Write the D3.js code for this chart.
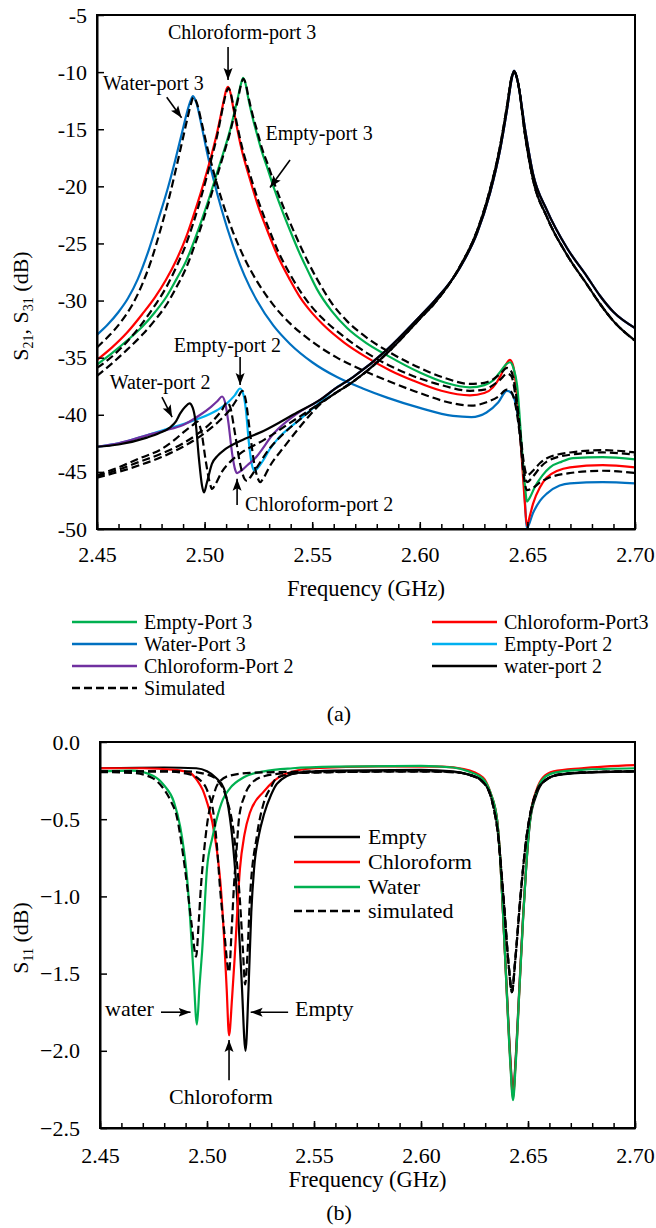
<!DOCTYPE html>
<html><head><meta charset="utf-8">
<script src="https://cdn.jsdelivr.net/npm/d3@7"></script>
<style>
body{margin:0;background:#fff}
text{font-family:"Liberation Serif","Times New Roman",Tinos,serif;fill:#000}
</style>
</head><body>
<svg id="c" width="656" height="1228"></svg>
<script>
// ---------- (a) S21 / S31 ----------
const xTicksA = [2.45,2.50,2.55,2.60,2.65,2.70];
const yTicksA = [-50,-45,-40,-35,-30,-25,-20,-15,-10,-5];

const empty3 = [[2.450,-35.6],[2.457,-34.6],[2.464,-33.5],[2.471,-32.3],[2.477,-31.0],[2.4825,-29.6],[2.487,-28.1],[2.4915,-26.5],[2.4955,-24.6],[2.4993,-22.6],[2.5025,-20.8],[2.5058,-18.8],[2.5090,-16.9],[2.5118,-15.1],[2.5140,-13.4],[2.5155,-12.2],[2.5168,-11.1],[2.5179,-10.5],[2.5190,-11.0],[2.5202,-12.2],[2.5222,-13.9],[2.5243,-15.4],[2.5265,-16.9],[2.5290,-18.3],[2.5325,-20.3],[2.5364,-22.3],[2.5400,-24.0],[2.5440,-25.8],[2.548,-27.4],[2.5522,-29.0],[2.559,-30.9],[2.5662,-32.4],[2.5750,-33.7],[2.5848,-34.8],[2.600,-36.3],[2.612,-37.2],[2.6233,-37.6],[2.630,-37.4],[2.634,-37.0],[2.6375,-36.2],[2.6400,-35.6],[2.6419,-35.4],[2.6435,-35.9],[2.6452,-37.4],[2.6475,-43.1],[2.6490,-46.5],[2.6498,-47.6],[2.6510,-47.3],[2.6535,-46.3],[2.6570,-45.3],[2.6605,-44.6],[2.6660,-44.1],[2.6712,-43.8],[2.685,-43.7],[2.700,-43.9]];
const chloro3 = [[2.450,-35.2],[2.457,-34.1],[2.464,-32.8],[2.471,-31.2],[2.477,-29.7],[2.482,-28.2],[2.487,-26.4],[2.4915,-24.4],[2.4946,-22.7],[2.498,-20.7],[2.5011,-18.7],[2.5037,-16.9],[2.5058,-15.3],[2.5075,-13.8],[2.5090,-12.4],[2.5100,-11.6],[2.5109,-11.3],[2.5120,-11.8],[2.5132,-13.0],[2.5150,-14.8],[2.5170,-16.6],[2.5211,-19.4],[2.5250,-21.8],[2.5290,-23.8],[2.5340,-26.1],[2.5397,-28.2],[2.5443,-29.7],[2.5500,-31.1],[2.5550,-32.1],[2.5650,-33.7],[2.5755,-35.0],[2.5860,-36.1],[2.5968,-37.0],[2.610,-37.9],[2.6233,-38.3],[2.630,-38.1],[2.634,-37.6],[2.6375,-36.6],[2.6400,-35.6],[2.6419,-35.2],[2.6435,-35.8],[2.6450,-38.0],[2.6466,-41.6],[2.6485,-46.9],[2.6498,-49.7],[2.6512,-48.8],[2.6526,-47.8],[2.6560,-46.3],[2.659,-45.5],[2.6640,-44.9],[2.6698,-44.6],[2.685,-44.4],[2.700,-44.6]];
const water3 = [[2.450,-33.0],[2.455,-32.1],[2.460,-31.0],[2.4644,-29.8],[2.469,-28.1],[2.474,-25.6],[2.4785,-22.9],[2.483,-20.1],[2.4865,-17.6],[2.4895,-15.3],[2.4920,-13.4],[2.4935,-12.5],[2.4946,-12.1],[2.4962,-12.7],[2.4985,-14.6],[2.5010,-16.9],[2.5039,-19.2],[2.5080,-22.1],[2.5132,-25.2],[2.5185,-27.8],[2.5243,-30.0],[2.532,-32.2],[2.5397,-33.8],[2.550,-35.4],[2.5615,-36.7],[2.5735,-37.7],[2.5848,-38.5],[2.600,-39.4],[2.6154,-40.1],[2.624,-40.2],[2.631,-39.8],[2.6365,-38.9],[2.6405,-37.9],[2.6425,-38.1],[2.6445,-39.0],[2.6466,-41.6],[2.6484,-46.0],[2.6498,-49.9],[2.6526,-48.6],[2.6560,-47.5],[2.659,-46.9],[2.6650,-46.2],[2.6698,-46.0],[2.685,-45.9],[2.700,-46.0]];

const empty2Head = [[2.450,-42.8],[2.460,-42.5],[2.4746,-41.7],[2.4850,-41.1],[2.4965,-40.4],[2.5058,-39.6],[2.5104,-39.0],[2.5140,-38.3],[2.5165,-37.7],[2.5180,-38.2],[2.5192,-39.6],[2.5205,-42.3],[2.522,-44.4],[2.5232,-44.9],[2.5250,-44.6],[2.5272,-44.0],[2.530,-43.1],[2.5336,-42.2],[2.5443,-40.4],[2.5536,-38.9]];
const chloro2Head = [[2.450,-42.8],[2.460,-42.5],[2.4732,-41.8],[2.4811,-41.4],[2.490,-40.9],[2.498,-40.0],[2.503,-39.3],[2.5060,-38.8],[2.5081,-38.4],[2.5095,-38.9],[2.5110,-40.6],[2.5128,-43.4],[2.5142,-44.8],[2.5151,-45.1],[2.5170,-44.9],[2.5200,-44.4],[2.523,-43.9],[2.5323,-41.6],[2.543,-39.9],[2.5536,-38.7]];
const water2Head = [[2.450,-42.8],[2.460,-42.6],[2.4732,-42.0],[2.479,-41.6],[2.484,-41.1],[2.4866,-40.6],[2.4886,-39.9],[2.4910,-39.3],[2.4930,-39.0],[2.4945,-39.4],[2.4958,-40.6],[2.4974,-43.9],[2.4988,-46.2],[2.4997,-46.8],[2.5010,-46.0],[2.5034,-44.3],[2.5060,-43.6],[2.509,-43.1],[2.5165,-42.3],[2.5276,-41.4],[2.543,-39.8],[2.5536,-38.7]];
const port2Tail = [[2.560,-37.8],[2.569,-36.7],[2.5848,-34.3],[2.600,-31.4],[2.607,-30.0],[2.6187,-27.1],[2.6266,-24.1],[2.6326,-20.6],[2.6373,-16.8],[2.6405,-13.3],[2.6429,-10.4],[2.6438,-9.9],[2.6448,-10.3],[2.6457,-11.0],[2.6489,-15.0],[2.6526,-18.9],[2.6591,-22.1],[2.6684,-25.4],[2.6777,-27.9],[2.6838,-29.6],[2.690,-31.0],[2.700,-32.4]];

const simEmpty3 = [[2.450,-36.6],[2.457,-35.5],[2.464,-34.3],[2.471,-33.0],[2.477,-31.7],[2.4825,-30.3],[2.487,-28.8],[2.4915,-27.1],[2.4955,-25.1],[2.4993,-23.0],[2.5025,-21.1],[2.5058,-19.1],[2.5090,-17.1],[2.5118,-15.3],[2.5140,-13.6],[2.5155,-12.4],[2.5168,-11.2],[2.5180,-10.6],[2.5191,-11.0],[2.5203,-12.1],[2.5224,-13.8],[2.5245,-15.2],[2.5267,-16.7],[2.5292,-18.0],[2.5327,-19.9],[2.5366,-21.8],[2.5402,-23.4],[2.5442,-25.1],[2.548,-26.6],[2.5522,-28.1],[2.559,-30.2],[2.5662,-31.8],[2.5750,-33.2],[2.5848,-34.4],[2.600,-35.9],[2.612,-36.8],[2.6233,-37.3],[2.630,-37.2],[2.634,-36.9],[2.6375,-36.4],[2.6405,-35.9],[2.6425,-36.2],[2.6445,-37.9],[2.6466,-41.3],[2.6485,-44.4],[2.6498,-45.3],[2.6526,-44.9],[2.656,-44.2],[2.659,-43.8],[2.6698,-43.3],[2.685,-43.1],[2.700,-43.3]];
const simChloro3 = [[2.450,-35.9],[2.457,-34.9],[2.464,-33.6],[2.471,-32.0],[2.477,-30.4],[2.482,-28.9],[2.487,-27.0],[2.4915,-25.0],[2.4946,-23.3],[2.498,-21.2],[2.5011,-19.1],[2.5037,-17.2],[2.5058,-15.6],[2.5075,-14.0],[2.5090,-12.6],[2.5102,-11.7],[2.5112,-11.4],[2.5122,-11.9],[2.5134,-13.0],[2.5152,-14.7],[2.5172,-16.4],[2.5213,-19.1],[2.5252,-21.4],[2.5292,-23.4],[2.5342,-25.7],[2.5400,-27.8],[2.5445,-29.2],[2.5500,-30.6],[2.5550,-31.6],[2.5650,-33.2],[2.5755,-34.6],[2.5860,-35.7],[2.5968,-36.6],[2.610,-37.4],[2.6233,-37.9],[2.630,-37.8],[2.634,-37.4],[2.6375,-36.9],[2.6405,-36.4],[2.6425,-36.6],[2.6445,-38.4],[2.6466,-41.8],[2.6485,-45.0],[2.6498,-45.9],[2.6526,-45.4],[2.656,-44.6],[2.659,-44.1],[2.6698,-43.5],[2.685,-43.3],[2.700,-43.5]];
const simWater3 = [[2.450,-34.1],[2.456,-33.0],[2.461,-31.9],[2.466,-30.5],[2.4705,-28.8],[2.475,-26.6],[2.4795,-23.8],[2.4835,-21.0],[2.4868,-18.4],[2.4898,-15.9],[2.4922,-13.9],[2.4938,-12.7],[2.4948,-12.2],[2.4962,-12.6],[2.4985,-14.3],[2.5010,-16.4],[2.5040,-18.6],[2.5080,-21.2],[2.5132,-24.0],[2.5185,-26.3],[2.5243,-28.3],[2.532,-30.4],[2.5397,-32.0],[2.550,-33.6],[2.5615,-35.0],[2.5735,-36.1],[2.5848,-37.0],[2.600,-38.1],[2.6154,-39.0],[2.624,-39.2],[2.631,-38.9],[2.6365,-38.4],[2.6405,-37.8],[2.6425,-38.0],[2.6445,-39.2],[2.6466,-42.0],[2.6484,-45.5],[2.6498,-46.6],[2.6526,-46.4],[2.656,-45.9],[2.659,-45.6],[2.6698,-45.1],[2.685,-44.9],[2.700,-45.1]];
const simEmpty2Head = [[2.450,-45.5],[2.460,-45.0],[2.470,-44.4],[2.480,-43.7],[2.490,-42.8],[2.500,-41.6],[2.507,-40.5],[2.512,-39.5],[2.5155,-38.5],[2.5175,-37.9],[2.5190,-38.6],[2.5210,-41.4],[2.5230,-44.2],[2.5248,-45.6],[2.5258,-45.9],[2.5275,-45.5],[2.530,-44.6],[2.537,-42.8],[2.545,-40.9],[2.5536,-39.1]];
const simChloro2Head = [[2.450,-45.4],[2.460,-44.8],[2.470,-44.1],[2.480,-43.4],[2.490,-42.5],[2.498,-41.5],[2.504,-40.5],[2.508,-39.6],[2.5105,-38.9],[2.5120,-39.4],[2.5140,-41.5],[2.5165,-44.3],[2.5185,-45.6],[2.5197,-45.8],[2.5215,-45.4],[2.5250,-44.4],[2.530,-43.0],[2.537,-41.6],[2.545,-40.3],[2.5536,-39.0]];
const simWater2Head = [[2.450,-45.3],[2.460,-44.6],[2.470,-43.8],[2.480,-43.0],[2.486,-42.2],[2.491,-41.4],[2.4945,-40.9],[2.4965,-40.6],[2.4985,-41.5],[2.5005,-44.0],[2.5022,-45.8],[2.5035,-46.5],[2.5050,-46.1],[2.5080,-45.0],[2.512,-44.1],[2.5165,-43.4],[2.5276,-42.2],[2.543,-40.3],[2.5536,-39.0]];
const simPort2Tail = [[2.560,-38.2],[2.569,-37.1],[2.5848,-34.6],[2.600,-31.6],[2.607,-30.2],[2.6187,-27.0],[2.6266,-23.9],[2.6326,-20.3],[2.6373,-16.5],[2.6405,-13.0],[2.6429,-10.3],[2.6440,-10.0],[2.6450,-10.4],[2.6460,-11.3],[2.6489,-15.5],[2.6526,-19.4],[2.6591,-22.7],[2.6684,-26.0],[2.6777,-28.6],[2.6838,-30.3],[2.690,-31.8],[2.700,-33.5]];

const seriesNamesA = ["Empty-Port 3","Chloroform-Port3","Water-Port 3","Empty-Port 2","Chloroform-Port 2","water-port 2","Simulated"];
const seriesColorsA = ["#00b050","#ff0000","#0070c0","#00b0f0","#7030a0","#000000","#000000"];

// ---------- (b) S11 ----------
const xTicksB = [2.45,2.50,2.55,2.60,2.65,2.70];
const yTicksB = [-2.5,-2.0,-1.5,-1.0,-0.5,0.0];

const emptyS11 = [[2.450,-0.17],[2.480,-0.165],[2.495,-0.17],[2.500,-0.19],[2.504,-0.23],[2.5079,-0.30],[2.5107,-0.49],[2.5127,-0.75],[2.5145,-1.10],[2.5162,-1.55],[2.5180,-2.00],[2.5194,-1.60],[2.5207,-1.10],[2.522,-0.82],[2.5243,-0.60],[2.5266,-0.47],[2.5300,-0.34],[2.5327,-0.27],[2.542,-0.20],[2.560,-0.185],[2.600,-0.18],[2.615,-0.19],[2.622,-0.21],[2.629,-0.25],[2.6325,-0.34],[2.6355,-0.50],[2.6370,-0.75],[2.6383,-1.10],[2.6400,-1.58],[2.6418,-2.06],[2.6430,-2.28],[2.6442,-2.06],[2.6460,-1.58],[2.6477,-1.13],[2.6492,-0.80],[2.651,-0.51],[2.654,-0.34],[2.657,-0.26],[2.662,-0.22],[2.675,-0.20],[2.700,-0.19]];
const chloroS11 = [[2.450,-0.17],[2.470,-0.17],[2.485,-0.18],[2.492,-0.20],[2.4955,-0.25],[2.4980,-0.31],[2.500,-0.39],[2.5025,-0.52],[2.5047,-0.71],[2.5065,-0.95],[2.5079,-1.25],[2.5092,-1.60],[2.5103,-1.90],[2.5117,-1.66],[2.513,-1.38],[2.5154,-0.82],[2.5175,-0.60],[2.520,-0.46],[2.5266,-0.32],[2.536,-0.21],[2.550,-0.17],[2.580,-0.158],[2.610,-0.16],[2.620,-0.175],[2.629,-0.23],[2.6325,-0.33],[2.6355,-0.50],[2.6370,-0.75],[2.6383,-1.10],[2.6400,-1.60],[2.6418,-2.08],[2.6430,-2.30],[2.6442,-2.08],[2.6460,-1.60],[2.6477,-1.14],[2.6492,-0.79],[2.651,-0.49],[2.654,-0.31],[2.657,-0.23],[2.662,-0.19],[2.675,-0.17],[2.700,-0.15]];
const waterS11 = [[2.450,-0.19],[2.465,-0.185],[2.475,-0.22],[2.4799,-0.28],[2.4846,-0.39],[2.4875,-0.55],[2.4893,-0.71],[2.4910,-0.93],[2.4921,-1.14],[2.4937,-1.50],[2.4953,-1.83],[2.4965,-1.58],[2.4977,-1.36],[2.500,-0.82],[2.5025,-0.62],[2.5047,-0.49],[2.5075,-0.37],[2.5107,-0.30],[2.517,-0.23],[2.5266,-0.19],[2.540,-0.17],[2.560,-0.16],[2.600,-0.155],[2.615,-0.165],[2.622,-0.19],[2.629,-0.24],[2.6325,-0.33],[2.6355,-0.50],[2.6370,-0.75],[2.6383,-1.10],[2.6400,-1.60],[2.6418,-2.10],[2.6430,-2.32],[2.6442,-2.10],[2.6460,-1.60],[2.6477,-1.15],[2.6492,-0.80],[2.651,-0.50],[2.654,-0.32],[2.657,-0.24],[2.662,-0.20],[2.675,-0.18],[2.700,-0.17]];
const simEmptyS11Head = [[2.450,-0.19],[2.490,-0.19],[2.500,-0.21],[2.505,-0.25],[2.509,-0.36],[2.5126,-0.60],[2.5154,-1.03],[2.5168,-1.35],[2.5178,-1.57],[2.519,-1.35],[2.520,-1.03],[2.5234,-0.60],[2.5266,-0.39],[2.5300,-0.29],[2.5327,-0.23],[2.545,-0.20],[2.600,-0.19]];
const simChloroS11Head = [[2.450,-0.19],[2.480,-0.19],[2.492,-0.21],[2.497,-0.25],[2.500,-0.31],[2.5033,-0.49],[2.5048,-0.70],[2.506,-0.93],[2.508,-1.22],[2.5103,-1.49],[2.5115,-1.22],[2.5126,-0.93],[2.5138,-0.70],[2.515,-0.49],[2.5175,-0.35],[2.520,-0.28],[2.527,-0.22],[2.540,-0.20],[2.600,-0.19]];
const simWaterS11Head = [[2.450,-0.195],[2.465,-0.20],[2.474,-0.23],[2.479,-0.29],[2.483,-0.38],[2.486,-0.49],[2.4885,-0.70],[2.4907,-0.93],[2.4928,-1.18],[2.4949,-1.39],[2.4962,-1.15],[2.4972,-0.93],[2.4986,-0.71],[2.5005,-0.49],[2.503,-0.35],[2.5047,-0.28],[2.510,-0.22],[2.520,-0.20],[2.560,-0.19],[2.600,-0.19]];
const simS11Dip2 = [[2.615,-0.195],[2.622,-0.21],[2.629,-0.26],[2.6335,-0.40],[2.6360,-0.60],[2.6385,-1.00],[2.6410,-1.45],[2.6425,-1.62],[2.6440,-1.42],[2.6465,-1.00],[2.6490,-0.65],[2.651,-0.47],[2.654,-0.32],[2.658,-0.25],[2.665,-0.21],[2.680,-0.195],[2.700,-0.19]];

const seriesNamesB = ["Empty","Chloroform","Water","simulated"];
const seriesColorsB = ["#000000","#ff0000","#00b050","#000000"];

// ---------- drawing ----------
const FONT = '"Liberation Serif","Times New Roman",Tinos,serif';
const svg = d3.select("#c");
svg.append("rect").attr("width",656).attr("height",1228).attr("fill","#fff");
const defs = svg.append("defs");
defs.append("marker").attr("id","arr").attr("viewBox","0 -5 12 10")
  .attr("refX",12).attr("refY",0).attr("markerWidth",12).attr("markerHeight",10)
  .attr("markerUnits","userSpaceOnUse").attr("orient","auto")
  .append("path").attr("d","M0,-4.5L12,0L0,4.5L2.5,0Z").attr("fill","#000");

const DASH = "8,4";

function panel(o){
  const g = svg.append("g");
  const x = d3.scaleLinear().domain(o.xDomain).range([o.left,o.right]);
  const y = d3.scaleLinear().domain(o.yDomain).range([o.bottom,o.top]);
  const cid = "clip"+o.id;
  defs.append("clipPath").attr("id",cid).append("rect")
    .attr("x",o.left).attr("y",o.top).attr("width",o.right-o.left).attr("height",o.bottom-o.top);
  const line = d3.line().x(d=>x(d[0])).y(d=>y(d[1])).curve(d3.curveMonotoneX);
  const lg = g.append("g").attr("clip-path",`url(#${cid})`);
  o.series.forEach(s=>{
    lg.append("path").attr("d",line(s.data)).attr("fill","none")
      .attr("stroke",s.color).attr("stroke-width",2.2)
      .attr("stroke-dasharray",s.dash?DASH:null);
  });
  g.append("rect").attr("x",o.left).attr("y",o.top).attr("width",o.right-o.left)
    .attr("height",o.bottom-o.top).attr("fill","none").attr("stroke","#000").attr("stroke-width",2);
  const minor = d3.range(Math.round(o.xDomain[0]*100), Math.round(o.xDomain[1]*100)+1).map(v=>v/100);
  g.append("g").attr("transform",`translate(0,${o.bottom})`)
    .call(d3.axisBottom(x).tickValues(minor).tickSize(-5).tickFormat(""))
    .call(a=>{a.select(".domain").remove();a.selectAll("line").attr("stroke-width",1.5);});
  g.append("g").attr("transform",`translate(0,${o.bottom})`)
    .call(d3.axisBottom(x).tickValues(o.xTicks).tickSizeInner(-7).tickSizeOuter(0).tickPadding(o.xPad).tickFormat(d3.format(".2f")))
    .call(a=>{a.attr("font-family",FONT);a.select(".domain").attr("stroke-width",2);a.selectAll("line").attr("stroke-width",1.5);
      a.selectAll("text").style("font-family",FONT).attr("font-size",o.tickFont).attr("fill","#000");});
  g.append("g").attr("transform",`translate(${o.left},0)`)
    .call(d3.axisLeft(y).tickValues(o.yTicks).tickSizeInner(-7).tickSizeOuter(0).tickPadding(o.yPad).tickFormat(o.yFmt))
    .call(a=>{a.attr("font-family",FONT);a.select(".domain").attr("stroke-width",2);a.selectAll("line").attr("stroke-width",1.5);
      a.selectAll("text").style("font-family",FONT).attr("font-size",o.tickFont).attr("fill","#000");});
  g.append("text").attr("x",(o.left+o.right)/2).attr("y",o.xTitleY).attr("text-anchor","middle")
    .attr("font-size",22.5).text("Frequency (GHz)");
  const yt = g.append("text").attr("transform",`translate(${o.yTitleX},${o.yTitleY}) rotate(-90)`)
    .attr("text-anchor","middle").attr("font-size",22);
  o.yTitle.forEach(p=>{
    const t = yt.append("tspan").text(p.t);
    if(p.sub){ t.attr("font-size",14).attr("dy",5); }
    else if(p.after){ t.attr("dy",-5); }
  });
  return {x,y,g};
}

const A = panel({
  id:"a", left:97, right:635, top:15, bottom:529,
  xDomain:[2.45,2.70], yDomain:[-50,-5], xTicks:xTicksA, yTicks:yTicksA,
  xPad:17, yPad:10, tickFont:22, yFmt:d=>String(d),
  xTitleY:596, yTitleX:28, yTitleY:306,
  yTitle:[{t:"S"},{t:"21",sub:true},{t:", S",after:true},{t:"31",sub:true},{t:" (dB)",after:true}],
  series:[
    {data:water3,color:seriesColorsA[2]},
    {data:chloro3,color:seriesColorsA[1]},
    {data:empty3,color:seriesColorsA[0]},
    {data:empty2Head.concat(port2Tail),color:seriesColorsA[3]},
    {data:chloro2Head.concat(port2Tail),color:seriesColorsA[4]},
    {data:water2Head.concat(port2Tail),color:seriesColorsA[5]},
    {data:simWater3,color:"#000",dash:true},
    {data:simChloro3,color:"#000",dash:true},
    {data:simEmpty3,color:"#000",dash:true},
    {data:simWater2Head.concat(simPort2Tail),color:"#000",dash:true},
    {data:simChloro2Head.concat(simPort2Tail),color:"#000",dash:true},
    {data:simEmpty2Head.concat(simPort2Tail),color:"#000",dash:true}
  ]
});

function annot(P, txt, tx, ty, anchor, ax1, ay1, ax2, ay2, fs){
  svg.append("text").attr("x",P.x(tx)).attr("y",P.y(ty)).attr("text-anchor",anchor)
    .attr("font-size",fs).text(txt);
  svg.append("line").attr("x1",P.x(ax1)).attr("y1",P.y(ay1)).attr("x2",P.x(ax2)).attr("y2",P.y(ay2))
    .attr("stroke","#000").attr("stroke-width",1.6).attr("marker-end","url(#arr)");
}
annot(A,"Chloroform-port 3",2.5174,-7.1,"middle",2.5109,-7.8,2.5109,-10.7,20);
annot(A,"Water-port 3",2.4762,-11.6,"middle",2.4824,-12.2,2.4893,-14.0,20);
annot(A,"Empty-port 3",2.5532,-15.9,"middle",2.5397,-17.7,2.5304,-20.1,20);
annot(A,"Empty-port 2",2.5106,-34.5,"middle",2.5165,-34.95,2.5165,-37.4,20);
annot(A,"Water-port 2",2.4793,-37.75,"middle",2.4802,-38.45,2.4849,-40.2,20);
annot(A,"Chloroform-port 2",2.5188,-48.4,"start",2.5151,-47.9,2.5151,-45.6,20);

const legA = [
  {x:72,y:622,i:0},{x:432,y:622,i:1},
  {x:72,y:644,i:2},{x:432,y:644,i:3},
  {x:72,y:666,i:4},{x:432,y:666,i:5},
  {x:72,y:688,i:6}
];
legA.forEach(l=>{
  svg.append("line").attr("x1",l.x).attr("x2",l.x+65).attr("y1",l.y).attr("y2",l.y)
    .attr("stroke",seriesColorsA[l.i]).attr("stroke-width",2.5)
    .attr("stroke-dasharray",l.i===6?DASH:null);
  svg.append("text").attr("x",l.x+72).attr("y",l.y+6.5).attr("font-size",20).text(seriesNamesA[l.i]);
});
svg.append("text").attr("x",339).attr("y",721).attr("text-anchor","middle").attr("font-size",22).text("(a)");

const B = panel({
  id:"b", left:100, right:635, top:742, bottom:1128,
  xDomain:[2.45,2.70], yDomain:[-2.5,0], xTicks:xTicksB, yTicks:yTicksB,
  xPad:19, yPad:20, tickFont:22, yFmt:d3.format(".1f"),
  xTitleY:1187, yTitleX:28, yTitleY:938,
  yTitle:[{t:"S"},{t:"11",sub:true},{t:" (dB)",after:true}],
  series:[
    {data:emptyS11,color:seriesColorsB[0]},
    {data:chloroS11,color:seriesColorsB[1]},
    {data:waterS11,color:seriesColorsB[2]},
    {data:simWaterS11Head.concat(simS11Dip2),color:"#000",dash:true},
    {data:simChloroS11Head.concat(simS11Dip2),color:"#000",dash:true},
    {data:simEmptyS11Head.concat(simS11Dip2),color:"#000",dash:true}
  ]
});
annot(B,"water",2.4752,-1.775,"end",2.4785,-1.75,2.4923,-1.75,22);
annot(B,"Empty",2.5411,-1.775,"start",2.5379,-1.75,2.5204,-1.75,22);
annot(B,"Chloroform",2.5065,-2.345,"middle",2.5103,-2.19,2.5103,-1.93,22);

const legB = [837,862,887,911];
legB.forEach((yy,i)=>{
  svg.append("line").attr("x1",294).attr("x2",360).attr("y1",yy).attr("y2",yy)
    .attr("stroke",seriesColorsB[i]).attr("stroke-width",2.5)
    .attr("stroke-dasharray",i===3?DASH:null);
  svg.append("text").attr("x",368).attr("y",yy+7).attr("font-size",22).text(seriesNamesB[i]);
});
svg.append("text").attr("x",339).attr("y",1220).attr("text-anchor","middle").attr("font-size",22).text("(b)");
</script>
</body></html>
